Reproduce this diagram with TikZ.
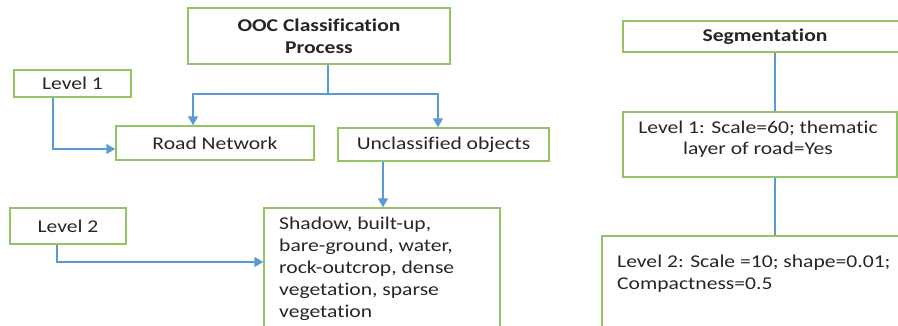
\documentclass[tikz,border=0pt]{standalone}
\usepackage{fontspec}
\setmainfont{Carlito}[FakeStretch=1.2, Ligatures=NoCommon]
\usetikzlibrary{arrows.meta}
\definecolor{boxgreen}{RGB}{146,196,98}
\definecolor{linkblue}{RGB}{91,155,213}
\definecolor{inkgray}{RGB}{38,38,38}
\newcommand{\boxfont}{\fontsize{18}{22}\selectfont}
\tikzstyle{box} = [rectangle, draw=boxgreen, line width=1.4pt, text=inkgray, font=\boxfont, inner sep=0pt, text centered]
\tikzstyle{txt} = [inner sep=0pt, text=inkgray, font=\boxfont]
\tikzstyle{link} = [draw=linkblue, line width=1.4pt]
\tikzstyle{arrow} = [link, -{Triangle[length=9pt,width=10pt]}]

\begin{document}
\begin{tikzpicture}[x=1pt, y=1pt, yscale=-1]
\clip (0,0) rectangle (898,326);

% classification side
\node at (319,36) (ooc) [box, minimum width=262pt, minimum height=56pt, align=center, font=\boxfont\bfseries] {OOC Classification\\Process};
\node at (72.5,83.5) (lvl1) [box, minimum width=117pt, minimum height=27pt] {Level 1};
\node at (215,143) (road) [box, minimum width=198pt, minimum height=34pt] {Road Network};
\node at (443.5,144.5) (uncl) [box, minimum width=211pt, minimum height=33pt] {Unclassified objects};
\node at (68,226) (lvl2) [box, minimum width=116pt, minimum height=36pt] {Level 2};
\node at (382,274) (classes) [box, minimum width=236pt, minimum height=132pt] {};
\node at (279,216.5) (classestxt) [txt, anchor=north west, align=left] {Shadow, built-up,\\bare-ground, water,\\rock-outcrop, dense\\vegetation, sparse\\vegetation};

% segmentation side
\node at (765,36.5) (seg) [box, minimum width=284pt, minimum height=31pt, font=\boxfont\bfseries] {Segmentation};
\node at (760,144.5) (seglvl1) [box, minimum width=274pt, minimum height=65pt] {};
\node at (758,121) (seglvl1txt) [txt, anchor=north, align=center, font=\fontsize{18}{20.5}\selectfont] {Level 1: Scale=60; thematic\\layer of road=Yes};
\node at (756,288) (seglvl2) [box, minimum width=308pt, minimum height=104pt] {};
\node at (617,255) (seglvl2txt) [txt, anchor=north west, align=left] {Level 2: Scale =10; shape=0.01;\\Compactness=0.5};

\coordinate (split) at (328,94);
\coordinate (vline) at (775,0);

\draw [link] (ooc.south -| split) -- (split);
\draw [arrow] (split) -| ([xshift=-22pt]road.north);
\draw [arrow] (split) -| ([xshift=-5.5pt]uncl.north);
\draw [arrow] ([xshift=-19.5pt]lvl1.south) |- ([yshift=6pt]road.west);
\draw [arrow] ([xshift=-60.5pt]uncl.south) -- ([xshift=-60.5pt]uncl.south |- classes.north);
\draw [arrow] ([xshift=-11pt]lvl2.south) |- ([yshift=-12pt]classes.west);

\draw [link] (seg.south -| vline) -- (seglvl1.north -| vline);
\draw [link] (seglvl1.south -| vline) -- (seglvl2.north -| vline);

\end{tikzpicture}
\end{document}
